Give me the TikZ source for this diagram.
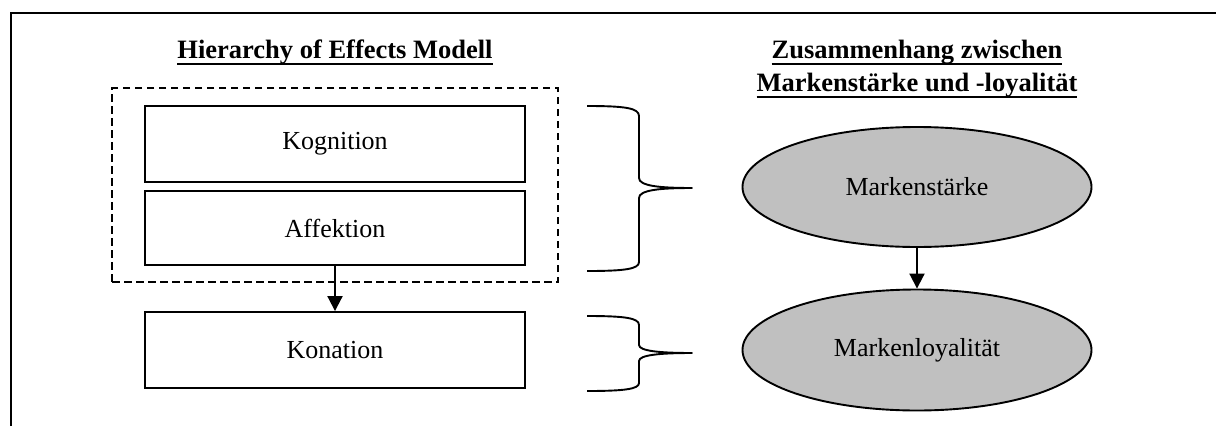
\documentclass[tikz,border=0pt]{standalone}
\usepackage{fontspec}
\setmainfont{Liberation Serif}
\usetikzlibrary{arrows.meta,shapes.geometric}
\definecolor{brandgray}{RGB}{192,192,192}
% bold heading with a heavy underline just below the descenders
\newcommand\ulhead[1]{\setbox0\hbox{#1}\rlap{\rule[-7.2pt]{\wd0}{2pt}}\box0}
\begin{document}
\begin{tikzpicture}[x=1pt,y=-1pt,line width=1.9pt,
  heading/.style={font=\fontsize{26.5}{33}\selectfont\bfseries,inner sep=0pt,anchor=base},
  stagebox/.style={draw,rectangle,minimum width=380pt,inner sep=0pt,font=\fontsize{26}{31}\selectfont},
  groupbox/.style={draw,rectangle,line width=1.7pt,dash pattern=on 7.5pt off 4.5pt,inner sep=0pt},
  brand/.style={draw,ellipse,fill=brandgray,minimum width=349pt,minimum height=120pt,inner sep=0pt,font=\fontsize{26}{31}\selectfont},
  link/.style={line width=2pt,-{Triangle[length=15pt,width=15pt]}},
  bracket/.style={line width=1.9pt,line join=round}]
\useasboundingbox (0,0) rectangle (1216,426);

% page frame (left and top edge)
\coordinate (fbl) at (11,426);
\coordinate (ftl) at (11,13);
\coordinate (ftr) at (1216,13);
\draw[line width=2pt] (fbl) -- (ftl) -- (ftr);

% headings
\node[heading] (hleft) at (335,58) {\ulhead{Hierarchy of Effects Modell}};
\node[heading] (hright1) at (917,58) {\ulhead{Zusammenhang zwischen}};
\node[heading] (hright2) at (917,91) {\ulhead{Markenstärke und -loyalität}};

% hierarchy of effects
\node[groupbox,minimum width=446pt,minimum height=194pt] (group) at (335,185) {};
\node[stagebox,minimum height=76pt] (kog) at (335,144) {Kognition};
\node[stagebox,minimum height=74pt] (aff) at (335,228) {Affektion};
\node[stagebox,minimum height=76pt] (kon) at (335,350) {Konation};
\draw[link] (aff.south) -- (kon.north);

% brackets
\draw[bracket] (587,106) .. controls (625,106) and (639,108) .. (639,116) -- (639,178)
  .. controls (639,186) and (660,188) .. (692,188)
  .. controls (660,188) and (639,190) .. (639,198) -- (639,262)
  .. controls (639,269) and (625,271) .. (587,271);
\draw[bracket] (587,316) .. controls (625,316) and (639,318) .. (639,325) -- (639,345)
  .. controls (639,351) and (660,353) .. (692,353)
  .. controls (660,353) and (639,355) .. (639,361) -- (639,383)
  .. controls (639,389) and (625,391) .. (587,391);

% brand strength and loyalty
\node[brand] (staerke) at (917,187) {Markenstärke};
\node[brand,minimum height=121pt] (loyal) at (917,350) {Markenloyalität};
\draw[link] (staerke.south) -- (loyal.north);
\end{tikzpicture}
\end{document}
